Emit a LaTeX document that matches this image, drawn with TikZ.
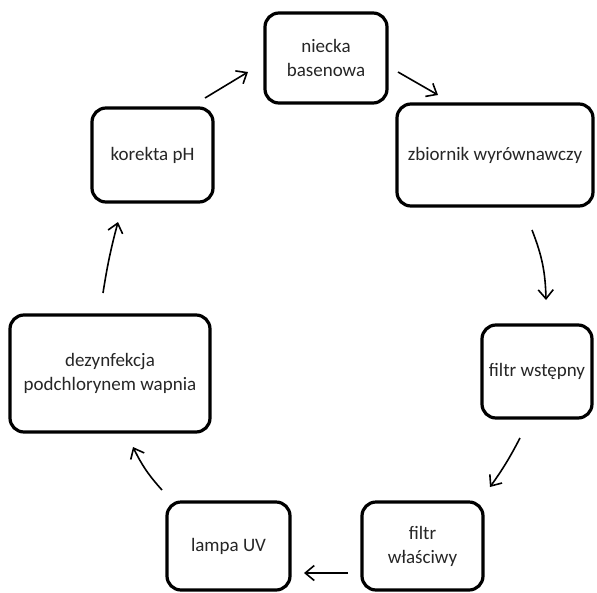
\documentclass[tikz,border=0pt]{standalone}
\usepackage{fontspec}
\setmainfont{Carlito}
\usetikzlibrary{arrows.meta}
\begin{document}
\begin{tikzpicture}[x=1pt,y=-1pt,
  box/.style={draw=black,line width=3.2pt,rounded corners=14pt,fill=white,align=center,
    inner sep=0pt,font=\fontsize{19}{24}\selectfont,text=black!85},
  arr/.style={line width=1.6pt,-{Straight Barb[length=9pt,width=15pt,line width=1.6pt]}}]
\useasboundingbox (0,0) rectangle (597,592);
\node[box,minimum width=122pt,minimum height=90pt] (niecka) at (326,58) {niecka\\basenowa};
\node[box,minimum width=196pt,minimum height=102pt] (zbiornik) at (495,155) {zbiornik wyrównawczy};
\node[box,minimum width=110pt,minimum height=93pt] (fw) at (537,371.5) {filtr wstępny};
\node[box,minimum width=121pt,minimum height=88pt] (fwl) at (422.5,546) {filtr\\właściwy};
\node[box,minimum width=123pt,minimum height=88pt] (lampa) at (228.5,546) {lampa UV};
\node[box,minimum width=200pt,minimum height=117pt] (dez) at (110,373.5) {dezynfekcja\\podchlorynem wapnia};
\node[box,minimum width=121pt,minimum height=94pt] (kor) at (152.5,155) {korekta pH};
\coordinate (a1) at (398,72); \coordinate (b1) at (438,95);
\coordinate (a2) at (532,230); \coordinate (b2) at (546,300);
\coordinate (a3) at (520,438); \coordinate (b3) at (490,487);
\coordinate (a4) at (348,573); \coordinate (b4) at (304,573);
\coordinate (a5) at (162,490); \coordinate (b5) at (133,447);
\coordinate (a6) at (103,293); \coordinate (b6) at (118,222);
\coordinate (a7) at (205,98); \coordinate (b7) at (248,72);
\draw[arr] (a1) -- (b1);
\draw[arr] (a2) to[bend left=10] (b2);
\draw[arr] (a3) to[bend left=4] (b3);
\draw[arr] (a4) -- (b4);
\draw[arr] (a5) to[bend left=8] (b5);
\draw[arr] (a6) to[bend left=3] (b6);
\draw[arr] (a7) -- (b7);
\end{tikzpicture}
\end{document}
